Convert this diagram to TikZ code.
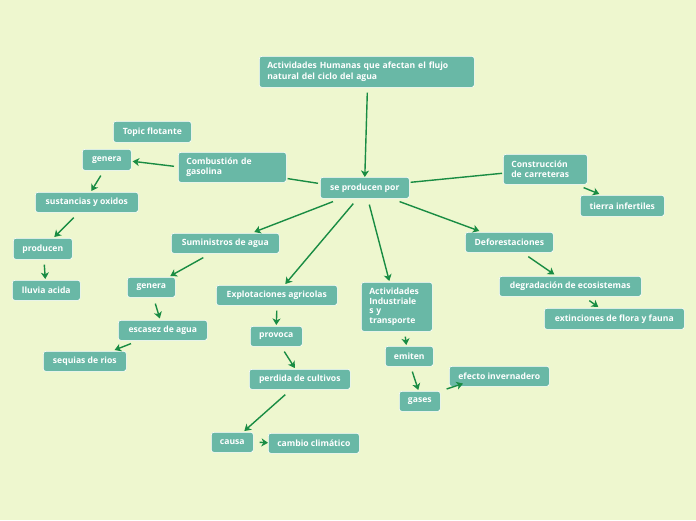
\documentclass[tikz,border=0pt]{standalone}
\usepackage{fontspec}
\setmainfont{Open Sans}
\usetikzlibrary{arrows.meta}
\definecolor{bgc}{HTML}{EEF7CF}
\definecolor{boxc}{HTML}{69B8A6}
\definecolor{linec}{HTML}{198C43}
\tikzset{
  box/.style={draw=white, line width=0.6pt, fill=boxc, rounded corners=2.5pt, text=white,
    font=\fontsize{8.6}{10.2}\selectfont\bfseries, inner xsep=8pt, inner ysep=2pt,
    anchor=north west, align=left},
  conn/.style={draw=linec, line width=1.4pt},
  arr/.style={conn, -{Stealth[length=6.5pt,width=8pt,inset=1.8pt]}}
}
\begin{document}
\begin{tikzpicture}[x=1pt,y=-1pt]
\fill[bgc] (0,0) rectangle (696,520);
\useasboundingbox (0,0) rectangle (696,520);
% nodes
\node[box, minimum width=215, minimum height=31, text width=199] (title) at (259,56) {Actividades Humanas que afectan el flujo\\natural del ciclo del agua};
\node[box, minimum width=89, minimum height=21] (se) at (320,177) {se producen por};
\node[box, minimum width=78, minimum height=21] (topic) at (113,121) {Topic flotante};
\node[box, minimum width=49, minimum height=21] (g1) at (82,149) {genera};
\node[box, minimum width=108, minimum height=30, text width=92] (comb) at (178,152) {Combustión de\\gasolina};
\node[box, minimum width=103, minimum height=20] (sust) at (35,192) {sustancias y oxidos};
\node[box, minimum width=59, minimum height=21] (prod) at (13,238) {producen};
\node[box, minimum width=68, minimum height=20] (lluvia) at (12,280) {lluvia acida};
\node[box, minimum width=84, minimum height=30, text width=68] (constr) at (503,154) {Construcción\\de carreteras};
\node[box, minimum width=84, minimum height=21] (tierra) at (580,195) {tierra infertiles};
\node[box, minimum width=88, minimum height=20] (defor) at (465,232) {Deforestaciones};
\node[box, minimum width=142, minimum height=20] (degr) at (499,276) {degradación de ecosistemas};
\node[box, minimum width=140, minimum height=21] (ext) at (544,308) {extinciones de flora y fauna};
\node[box, minimum width=108, minimum height=20] (sumin) at (171,233) {Suministros de agua};
\node[box, minimum width=48, minimum height=20] (g2) at (127,277) {genera};
\node[box, minimum width=89, minimum height=20] (esc) at (118,320) {escasez de agua};
\node[box, minimum width=83, minimum height=20] (seq) at (43,351) {sequias de rios};
\node[box, minimum width=121, minimum height=20] (explot) at (216,285) {Explotaciones agricolas};
\node[box, minimum width=52, minimum height=20] (provoca) at (250,326) {provoca};
\node[box, minimum width=101, minimum height=20] (perd) at (249,369) {perdida de cultivos};
\node[box, minimum width=42, minimum height=20] (causa) at (211,432) {causa};
\node[box, minimum width=91, minimum height=20] (cambio) at (268,433) {cambio climático};
\node[box, minimum width=69, minimum height=49, text width=55, inner ysep=3pt, font=\fontsize{8.6}{9.6}\selectfont\bfseries] (actind) at (361,282) {Actividades\\Industriale\\s y\\transporte};
\node[box, minimum width=48, minimum height=20] (emiten) at (385,346) {emiten};
\node[box, minimum width=41, minimum height=20] (gases) at (399,391) {gases};
\node[box, minimum width=100, minimum height=20] (efecto) at (449,366) {efecto invernadero};
% connectors
\draw[arr] ([xshift=0.5pt,yshift=-5pt]title.south) -- (se.north);
\draw[conn] ([xshift=1pt,yshift=4pt]comb.south east) -- ([xshift=-2pt,yshift=4.5pt]se.west);
\draw[arr] ([xshift=-4pt,yshift=1pt]comb.west) -- ([xshift=1pt,yshift=-1.5pt]g1.east);
\draw[arr] ([xshift=-6pt,yshift=-5pt]g1.south) -- ([xshift=4.5pt,yshift=1pt]sust.north);
\draw[arr] ([xshift=-13pt,yshift=-5pt]sust.south) -- ([xshift=11.5pt,yshift=1pt]prod.north);
\draw[arr] ([xshift=1.5pt,yshift=-5pt]prod.south) -- ([xshift=-1pt,yshift=1pt]lluvia.north);
\draw[conn] ([xshift=1pt,yshift=5.5pt]se.east) -- ([xshift=-1pt,yshift=-4pt]constr.west);
\draw[arr] ([xshift=-4pt,yshift=-3pt]constr.south east) -- ([xshift=-23pt,yshift=1pt]tierra.north);
\draw[arr] ([xshift=-10pt,yshift=-3pt]se.south east) -- ([xshift=-30pt,yshift=1pt]defor.north);
\draw[arr] ([xshift=19pt,yshift=-4pt]defor.south) -- ([xshift=-16pt,yshift=1.5pt]degr.north);
\draw[arr] ([xshift=19pt,yshift=-4pt]degr.south) -- ([xshift=-16pt,yshift=1pt]ext.north);
\draw[arr] ([xshift=13pt,yshift=-3pt]se.south west) -- ([xshift=29pt,yshift=1pt]sumin.north);
\draw[arr] ([xshift=-22pt,yshift=-4pt]sumin.south) -- ([xshift=19pt,yshift=1pt]g2.north);
\draw[arr] ([xshift=4pt,yshift=-6pt]g2.south) -- ([xshift=-3pt,yshift=1.5pt]esc.north);
\draw[arr] ([xshift=13pt,yshift=-3pt]esc.south west) -- ([xshift=-12pt,yshift=1pt]seq.north east);
\draw[arr] ([xshift=-11.5pt,yshift=-5pt]se.south) -- ([xshift=8.5pt,yshift=1pt]explot.north);
\draw[arr] ([yshift=-5pt]explot.south) -- ([yshift=1pt]provoca.north);
\draw[arr] ([xshift=8pt,yshift=-5pt]provoca.south) -- ([xshift=-5pt,yshift=1pt]perd.north);
\draw[arr] ([xshift=-14.5pt,yshift=-5pt]perd.south) -- ([xshift=12pt,yshift=1pt]causa.north);
\draw[arr] ([xshift=6pt]causa.east) -- ([xshift=0pt,yshift=0.5pt]cambio.west);
\draw[arr] ([xshift=4.5pt,yshift=-6pt]se.south) -- ([xshift=-7.5pt,yshift=1pt]actind.north);
\draw[arr] ([xshift=8.5pt,yshift=-5pt]actind.south) -- ([xshift=-3pt,yshift=1pt]emiten.north);
\draw[arr] ([xshift=3pt,yshift=-5pt]emiten.south) -- ([xshift=-1.5pt,yshift=1pt]gases.north);
\draw[arr] ([xshift=6pt,yshift=2pt]gases.north east) -- ([xshift=14pt,yshift=3pt]efecto.south west);
\end{tikzpicture}
\end{document}
